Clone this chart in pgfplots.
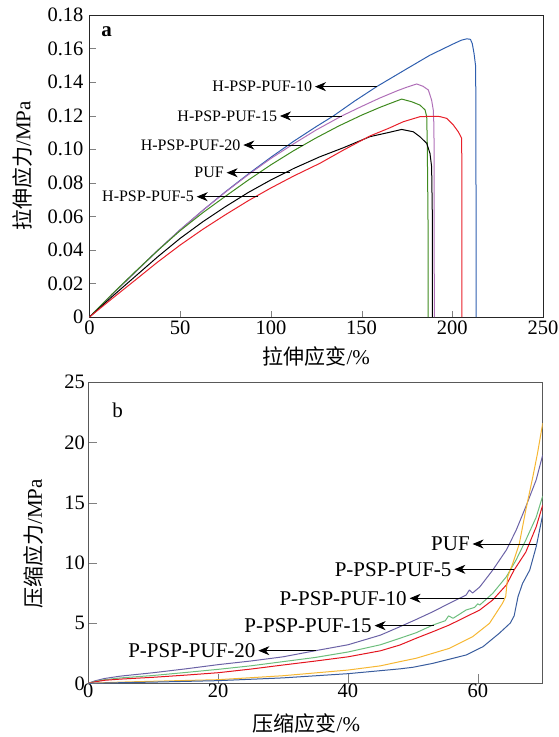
\documentclass[border=0pt]{standalone}
\usepackage{fontspec}
\setmainfont{Liberation Serif}
\newfontfamily\cjk{Noto Sans CJK SC}
\usepackage{pgfplots}
\pgfplotsset{compat=1.18}
\usetikzlibrary{arrows.meta}

% panel a
\definecolor{aBlue}{HTML}{2F5FAF}
\definecolor{aPurple}{HTML}{B070B8}
\definecolor{aGreen}{HTML}{3F8A1F}
\definecolor{aRed}{HTML}{E8202A}
% panel b
\definecolor{bPurple}{HTML}{6B62A6}
\definecolor{bGreen}{HTML}{6DBE7D}
\definecolor{bRed}{HTML}{E3151F}
\definecolor{bOrange}{HTML}{F6B733}
\definecolor{bBlue}{HTML}{3A5D9E}

\pgfplotsset{
  panel/.style={
    scale only axis, anchor=south west,
    tick align=inside, xtick pos=bottom, ytick pos=left,
    scaled ticks=false,
    ticklabel style={font=\fontsize{20.5}{24}\selectfont},
    label style={font=\fontsize{21}{25}\selectfont},
    every axis plot/.append style={mark=none, line width=1pt, line join=round},
  },
}
\tikzset{
  arr/.style={draw=black, line width=0.8pt, -{Stealth[length=11pt,width=9pt,inset=3.5pt]}},
  labA/.style={anchor=east, inner sep=2.5pt, font=\fontsize{16}{19}\selectfont},
  labB/.style={anchor=east, inner sep=2.5pt, font=\fontsize{21}{25}\selectfont},
}

\begin{document}
\begin{tikzpicture}
\useasboundingbox (0pt,0pt) rectangle (558pt,-737pt);

% ---- a: tensile ----
\begin{axis}[panel,
  at={(89.5pt,-317pt)}, width=453.5pt, height=302pt,
  axis line style={black!85, line width=0.8pt},
  major tick length=6pt,
  xmin=0, xmax=250, ymin=0, ymax=0.18,
  xtick={0,50,100,150,200,250}, xticklabels={0,50,100,150,200,250},
  ytick={0,0.02,0.04,0.06,0.08,0.10,0.12,0.14,0.16,0.18},
  yticklabels={0,0.02,0.04,0.06,0.08,0.10,0.12,0.14,0.16,0.18},
  yticklabel style={xshift=-2.5pt},
  xlabel={{\cjk 拉伸应变}/\%}, ylabel={{\cjk 拉伸应力}/MPa},
  x label style={at={(axis description cs:0.5,-0.131)}, anchor=center},
  y label style={at={(axis description cs:-0.148,0.5)}, anchor=center},
]
% H-PSP-PUF-10
\addplot[aBlue] coordinates {(0,0) (12.5,0.0135) (25,0.0265) (37.5,0.0396) (50,0.0520) (62.5,0.0636) (75,0.0747) (87.5,0.0852) (100,0.0952) (112.5,0.1047) (125,0.1135) (134.4,0.1198) (146,0.1286) (158.3,0.1373) (175,0.148) (187.6,0.156) (200,0.1625) (205,0.165) (208,0.1658) (210,0.1655) (211,0.163) (212,0.157) (212.8,0.15) (213,0.13) (213.1,0.05) (213.2,0)};
% H-PSP-PUF-15
\addplot[aPurple] coordinates {(0,0) (12.5,0.0135) (25,0.0265) (37.5,0.0396) (50,0.0520) (62.5,0.0636) (75,0.0745) (87.5,0.0848) (100,0.0945) (112.5,0.1032) (125,0.1115) (139,0.1198) (150,0.1255) (160,0.1305) (170,0.135) (175,0.137) (180.4,0.1389) (183.9,0.1375) (186.8,0.1353) (188.6,0.1293) (189.5,0.1234) (189.9,0.1134) (190,0.05) (190.1,0)};
% H-PSP-PUF-20
\addplot[aGreen] coordinates {(0,0) (12.5,0.0137) (25,0.0268) (37.5,0.0395) (50,0.0515) (62.5,0.0622) (75,0.0720) (87.5,0.0816) (100,0.0907) (112.5,0.0991) (125,0.1068) (137.5,0.1139) (150,0.1203) (160,0.1249) (165,0.127) (172.1,0.1299) (177.6,0.1283) (182.2,0.1263) (185,0.1234) (185.9,0.1194) (186.2,0.1035) (186.6,0.06) (186.7,0)};
% PUF
\addplot[black] coordinates {(0,0) (12.5,0.0122) (25,0.0240) (37.5,0.0358) (50,0.0469) (62.5,0.0568) (75,0.0658) (87.5,0.0742) (100,0.0817) (112.5,0.0885) (127,0.0955) (140,0.1009) (154.6,0.1075) (165,0.11) (172.1,0.1118) (178.5,0.1104) (182.2,0.1074) (185.9,0.1035) (187.7,0.0975) (188.6,0.0896) (189,0.06) (189,0)};
% H-PSP-PUF-5
\addplot[aRed] coordinates {(0,0) (12.5,0.0110) (25,0.0218) (37.5,0.0327) (50,0.0429) (62.5,0.0523) (75,0.0610) (87.5,0.0693) (100,0.0769) (112.5,0.0840) (127,0.0916) (140,0.0995) (154.6,0.1079) (165,0.1125) (173,0.1164) (182.2,0.1194) (187.7,0.1196) (193,0.1195) (196.9,0.1184) (200.6,0.1144) (203.3,0.1104) (205.2,0.1065) (205.3,0)};

\node[font=\fontsize{21}{25}\selectfont\bfseries] at (axis cs:9.5,0.170) {a};
\draw[arr] (axis cs:158.3,0.1373) -- (axis cs:124.3,0.1373) node[labA] {H-PSP-PUF-10};
\draw[arr] (axis cs:139,0.1198) -- (axis cs:105,0.1198) node[labA] {H-PSP-PUF-15};
\draw[arr] (axis cs:117.9,0.1025) -- (axis cs:84.8,0.1025) node[labA] {H-PSP-PUF-20};
\draw[arr] (axis cs:110.5,0.0860) -- (axis cs:75.6,0.0860) node[labA] {PUF};
\draw[arr] (axis cs:93.1,0.0717) -- (axis cs:59.1,0.0717) node[labA] {H-PSP-PUF-5};
\end{axis}

% ---- b: compression ----
\begin{axis}[panel,
  at={(88.3pt,-683.3pt)}, width=454.4pt, height=301pt,
  axis line style={black!65, line width=0.8pt},
  major tick length=9pt,
  xmin=0, xmax=70, ymin=0, ymax=25,
  xtick={0,20,40,60}, xticklabels={0,20,40,60},
  ytick={0,5,10,15,20,25}, yticklabels={0,5,10,15,20,25},
  xticklabel style={yshift=3pt},
  xlabel={{\cjk 压缩应变}/\%}, ylabel={{\cjk 压缩应力}/MPa},
  x label style={at={(axis description cs:0.48,-0.1336)}, anchor=center},
  y label style={at={(axis description cs:-0.1195,0.463)}, anchor=center},
]
% P-PSP-PUF-20
\addplot[bPurple] coordinates {(0,0) (1,0.2) (2.5,0.4) (5,0.6) (10,0.88) (15,1.2) (20,1.55) (25,1.85) (30,2.2) (35,2.71) (40,3.2) (45,4.0) (48,4.7) (50.5,5.3) (53.1,5.95) (55.6,6.64) (58.2,7.33) (58.7,7.75) (59.2,7.5) (60.3,8.0) (62.3,9.4) (64.4,11.07) (65.9,12.7) (67.4,14.67) (69,16.9) (70,18.96)};
% P-PSP-PUF-15
\addplot[bGreen] coordinates {(0,0) (1,0.15) (2.5,0.3) (5,0.45) (10,0.65) (15,0.9) (20,1.16) (25,1.45) (30,1.8) (35,2.15) (40,2.6) (45,3.2) (48,3.74) (50.5,4.2) (53.1,4.84) (55,5.2) (55.5,5.6) (56.2,5.4) (58.2,6.09) (59.5,6.3) (60,6.6) (60.3,6.5) (62.3,7.47) (64.4,8.85) (65.9,10.24) (67.4,11.9) (69,13.8) (70,15.56)};
% P-PSP-PUF-5
\addplot[bRed] coordinates {(0,0) (1,0.12) (2.5,0.25) (5,0.35) (10,0.5) (15,0.68) (20,0.88) (25,1.18) (30,1.52) (35,1.85) (40,2.2) (45,2.7) (48,3.18) (50.5,3.74) (53.1,4.29) (55.6,4.84) (58.2,5.53) (60.3,6.09) (62.3,6.92) (64.4,8.17) (65.6,9.41) (67.4,10.9) (69,13.0) (70,14.8)};
% P-PSP-PUF-10
\addplot[bOrange] coordinates {(0,0) (5,0.1) (10,0.17) (20,0.3) (30,0.63) (40,1.1) (45,1.45) (48,1.8) (50.5,2.08) (55.6,2.9) (59.2,3.87) (61.8,4.98) (63.8,6.64) (64.3,7.2) (64.6,8.85) (65.4,9.97) (66.4,11.6) (67.4,14.4) (68.5,17.2) (69.2,19.1) (70,21.6)};
% PUF
\addplot[bBlue] coordinates {(0,0) (5,0.05) (10,0.1) (20,0.22) (30,0.45) (40,0.8) (45,1.05) (48,1.2) (50,1.33) (53.1,1.66) (58.2,2.35) (60.8,3.04) (63.3,4.15) (65,5.0) (65.6,5.6) (66.2,7.2) (66.9,8.3) (68,9.4) (69,11.35) (70,14.0)};

\node[font=\fontsize{21}{25}\selectfont] at (axis cs:4.5,22.7) {b};
\draw[arr] (axis cs:69.0,11.57) -- (axis cs:59.2,11.57) node[labB] {PUF};
\draw[arr] (axis cs:65.6,9.47) -- (axis cs:56.4,9.47) node[labB] {P-PSP-PUF-5};
\draw[arr] (axis cs:64.1,7.06) -- (axis cs:49.5,7.06) node[labB] {P-PSP-PUF-10};
\draw[arr] (axis cs:53.3,4.79) -- (axis cs:44.1,4.79) node[labB] {P-PSP-PUF-15};
\draw[arr] (axis cs:35.1,2.71) -- (axis cs:26.2,2.71) node[labB] {P-PSP-PUF-20};
\end{axis}
\end{tikzpicture}
\end{document}
